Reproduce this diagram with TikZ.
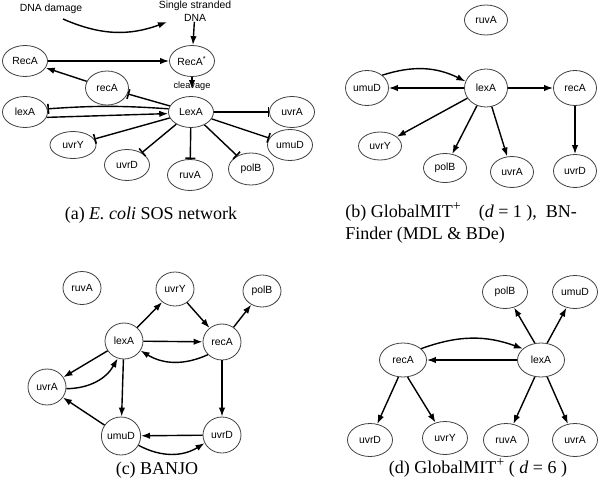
\documentclass[tikz,border=0pt]{standalone}
\usepackage{fontspec}
\setmainfont{Liberation Serif}
\newfontfamily\nodefont{Liberation Sans}
\usetikzlibrary{shapes.geometric,arrows.meta}
\newcommand{\supplus}{\raisebox{0.85ex}{\fontsize{7}{7}\selectfont +}}
\begin{document}
\begin{tikzpicture}[x=0.5pt,y=0.5pt,
  gene/.style={ellipse,draw=black!75,line width=0.4pt,inner sep=0pt,
    minimum width=22.5pt,minimum height=15.5pt,font=\nodefont\fontsize{5.2}{6}\selectfont},
  gb/.style={gene,minimum width=21.5pt,minimum height=17.5pt},
  gc/.style={gene,minimum width=19pt,minimum height=18pt},
  gd/.style={gene,minimum width=22.5pt,minimum height=16.5pt},
  lbl/.style={font=\nodefont\fontsize{5.2}{6}\selectfont,inner sep=0pt},
  arr/.style={line width=0.7pt,-{Latex[length=4.5pt,width=3.2pt]}},
  inh/.style={line width=0.7pt,-{Bar[width=5pt,line width=0.8pt]}},
  capt/.style={font=\fontsize{9}{11}\selectfont,inner sep=0pt}]
\useasboundingbox (0,0) rectangle (600,-493);

% ---------------- (a) ----------------
\node[lbl] (dnad) at (51,-9) {DNA damage};
\node[lbl,align=center] (ssdna) at (195,-11) {Single stranded\\[0.6pt]DNA};
\node[gene] (RecA) at (25,-61) {RecA};
\node[gene] (RecAs) at (192,-61) {RecA\textsuperscript{*}};
\node[gene,minimum width=21.5pt,minimum height=17pt] (recA) at (107,-88) {recA};
\node[gene] (LexA) at (191,-112) {LexA};
\node[gene] (lexA) at (25,-112) {lexA};
\node[gene] (uvrA) at (292,-112) {uvrA};
\node[gene] (umuD) at (290,-145) {umuD};
\node[gene,minimum width=23pt,minimum height=13.5pt] (uvrY) at (73,-145) {uvrY};
\node[gene] (uvrD) at (127,-165) {uvrD};
\node[gene] (ruvA) at (190,-175) {ruvA};
\node[gene,minimum height=16pt] (polB) at (251,-169) {polB};

\coordinate (dd0) at (63,-19);
\coordinate (dd1) at (167,-22);
\draw[arr] (dd0) to[bend right=22] (dd1);
\draw[arr] (ssdna) -- (RecAs);
\draw[arr] (RecA) -- (RecAs);
\draw[arr] (recA) -- (RecA);
\coordinate (cl) at (192,-89);
\draw[arr] (RecAs) -- (cl);
\node[lbl,font=\nodefont\fontsize{4.6}{5}\selectfont] (clv) at (192,-86) {cleavage};
\draw[inh] (LexA) -- (recA);
\draw[inh] (LexA.172) to[bend right=4] (lexA.8);
\draw[arr] (lexA.-14) -- (LexA.184);
\draw[inh] (LexA) -- (uvrA);
\draw[inh] (LexA) -- (umuD);
\draw[inh] (LexA) -- (uvrY);
\draw[inh] (LexA) -- (uvrD);
\draw[inh] (LexA) -- (ruvA);
\draw[inh] (LexA) -- (polB);

\node[capt] (capa) at (151,-215) {(a) \textit{E. coli} SOS network};

% ---------------- (b) ----------------
\node[gb,minimum height=15pt] (bruvA) at (486,-20) {ruvA};
\node[gb] (bumuD) at (367,-88) {umuD};
\node[gb,minimum height=19pt] (blexA) at (486,-88) {lexA};
\node[gb] (brecA) at (575,-88) {recA};
\node[gb,minimum height=14pt] (buvrY) at (380,-146) {uvrY};
\node[gb,minimum height=14.5pt] (bpolB) at (445,-168) {polB};
\node[gb,minimum height=15.5pt] (buvrA) at (512,-172) {uvrA};
\node[gb,minimum height=16.5pt] (buvrD) at (575,-171) {uvrD};

\draw[arr] (bumuD.40) to[bend left=22] (blexA.162);
\draw[arr] (blexA) -- (bumuD);
\draw[arr] (blexA) -- (brecA);
\draw[arr] (blexA) -- (buvrY);
\draw[arr] (blexA) -- (bpolB);
\draw[arr] (blexA) -- (buvrA);
\draw[arr] (brecA) -- (buvrD);

\node[capt,anchor=north west,align=left] (capb) at (345,-202)
  {(b) GlobalMIT\supplus\quad(\textit{d} = 1 ),\ \ BN-\\Finder (MDL \& BDe)};

% ---------------- (c) ----------------
\node[gc,minimum height=16.5pt] (cruvA) at (82,-288) {ruvA};
\node[gc,minimum height=17pt] (cuvrY) at (175,-289) {uvrY};
\node[gc,minimum height=16pt] (cpolB) at (262,-291) {polB};
\node[gc] (clexA) at (124,-341) {lexA};
\node[gc] (crecA) at (222,-342) {recA};
\node[gc] (cuvrA) at (47,-387) {uvrA};
\node[gc,minimum height=19pt] (cumuD) at (121,-436) {umuD};
\node[gc] (cuvrD) at (222,-435) {uvrD};

\draw[arr] (clexA) -- (cuvrY);
\draw[arr] (cuvrY) -- (crecA);
\draw[arr] (crecA) -- (cpolB);
\draw[arr] (clexA) -- (crecA);
\draw[arr] (crecA.222) to[bend left=28] (clexA.-30);
\draw[arr] (clexA) -- (cuvrA);
\draw[arr] (cuvrA.-5) to[bend right=30] (clexA.250);
\draw[arr] (clexA) -- (cumuD);
\draw[arr] (crecA) -- (cuvrD);
\draw[arr] (cuvrD) -- (cumuD);
\draw[arr] (cumuD.-28) to[bend right=30] (cuvrD.205);
\draw[arr] (cumuD) -- (cuvrA);

\node[capt] (capc) at (157,-470) {(c) BANJO};

% ---------------- (d) ----------------
\node[gd] (dpolB) at (505,-292) {polB};
\node[gd] (dumuD) at (575,-292) {umuD};
\node[gd,minimum width=23.5pt,minimum height=17pt] (drecA) at (403,-360) {recA};
\node[gd,minimum width=23.5pt,minimum height=17pt] (dlexA) at (541,-360) {lexA};
\node[gd] (duvrD) at (370,-440) {uvrD};
\node[gd] (duvrY) at (445,-438) {uvrY};
\node[gd] (druvA) at (506,-440) {ruvA};
\node[gd] (duvrA) at (575,-440) {uvrA};

\draw[arr] (dlexA.110) -- (dpolB);
\draw[arr] (dlexA.70) -- (dumuD);
\draw[arr] (drecA.32) to[bend left=20] (dlexA.148);
\draw[arr] (dlexA) -- (drecA);
\draw[arr] (drecA.255) -- (duvrD);
\draw[arr] (drecA.285) -- (duvrY);
\draw[arr] (dlexA.250) -- (druvA);
\draw[arr] (dlexA.290) -- (duvrA);

\node[capt] (capd) at (478,-468) {(d) GlobalMIT\supplus\ ( \textit{d} = 6 )};
\end{tikzpicture}
\end{document}
